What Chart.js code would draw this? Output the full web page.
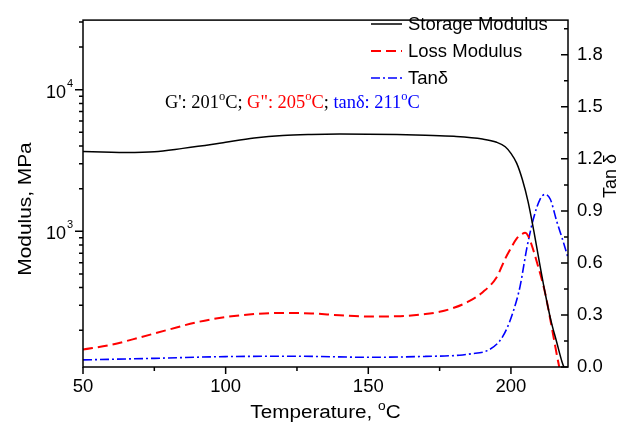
<!DOCTYPE html>
<html>
<head>
<meta charset="utf-8">
<script src="https://cdn.jsdelivr.net/npm/chart.js@4.4.0/dist/chart.umd.min.js"></script>
<style>
html, body { margin: 0; padding: 0; background: #fff; }
#wrap { width: 624px; height: 425px; position: relative; }
</style>
</head>
<body>
<div id="wrap"><canvas id="dma"></canvas></div>
<script>
// Storage modulus G' (MPa)
const storageT = [50, 60, 65, 75, 85, 95, 100, 110, 120, 130, 140, 150, 160, 170, 180, 190, 195, 198, 200, 202, 204, 206, 208, 210, 212, 214, 216, 218, 220];
const storageG = [3660, 3610, 3600, 3640, 3850, 4100, 4250, 4550, 4750, 4830, 4860, 4850, 4820, 4760, 4680, 4480, 4250, 3950, 3550, 3030, 2320, 1620, 1010, 600, 365, 235, 166, 118, 95];

// Loss modulus G" (MPa)
const lossT = [50, 60, 70, 80, 90, 100, 110, 120, 130, 140, 150, 160, 170, 175, 180, 185, 190, 195, 198, 200, 202, 204, 205, 206, 207, 209, 212, 214.4, 216.7, 218];
const lossG = [146, 158, 178, 202, 228, 248, 260, 265, 263, 255, 250, 251, 260, 270, 288, 318, 370, 474, 640, 760, 888, 960, 975, 930, 830, 615, 365, 205, 116, 90];

// Tan delta
const tanT = [50, 75, 100, 125, 150, 170, 182, 186, 191.5, 196, 198.6, 201, 203.2, 205.6, 207.9, 210.2, 212, 213.8, 216.1, 218, 220];
const tanD = [0.041, 0.05, 0.06, 0.062, 0.056, 0.061, 0.068, 0.076, 0.093, 0.149, 0.223, 0.33, 0.465, 0.688, 0.856, 0.967, 0.995, 0.967, 0.837, 0.74, 0.63];

// axis ticks
const xMajor = [50, 100, 150, 200];
const xMinor = [75, 125, 175];
const tanMajor = [0, 0.3, 0.6, 0.9, 1.2, 1.5, 1.8];
const tanMinor = [0.15, 0.45, 0.75, 1.05, 1.35, 1.65, 1.95];
const modMajor = [1000, 10000];
const modExp = ['3', '4'];
const modMinor = [200, 300, 400, 500, 600, 700, 800, 900, 2000, 3000, 4000, 5000, 6000, 7000, 8000, 9000, 20000, 30000];

const SANS = '"Liberation Sans", Arial, sans-serif';
const SERIF = '"Liberation Serif", "Times New Roman", serif';

function pts(xs, ys) {
    return xs.map((x, i) => ({ x: x, y: ys[i] }));
}

function supText(ctx, parts, x, y, size, supSize, supRise) {
    // draws a row of text pieces, some as superscripts
    parts.forEach(p => {
        ctx.fillStyle = p.c || '#000';
        if (p.sup) {
            ctx.font = supSize + 'px ' + p.f;
            ctx.fillText(p.t, x, y - supRise);
        } else {
            ctx.font = size + 'px ' + p.f;
            ctx.fillText(p.t, x, y);
        }
        x += ctx.measureText(p.t).width;
    });
    return x;
}

function rowWidth(ctx, parts, size, supSize) {
    let w = 0;
    parts.forEach(p => {
        ctx.font = (p.sup ? supSize : size) + 'px ' + p.f;
        w += ctx.measureText(p.t).width;
    });
    return w;
}

const decor = {
    id: 'decor',
    afterDatasetsDraw(chart) {
        const ctx = chart.ctx;
        const a = chart.chartArea;
        const sx = chart.scales.x, sy = chart.scales.y, sr = chart.scales.y1;
        ctx.save();

        // frame
        ctx.strokeStyle = '#000';
        ctx.lineWidth = 1.5;
        ctx.strokeRect(a.left, a.top, a.right - a.left, a.bottom - a.top);

        // tick marks
        ctx.beginPath();
        xMajor.forEach(v => { const p = sx.getPixelForValue(v); ctx.moveTo(p, a.bottom); ctx.lineTo(p, a.bottom + 7); });
        xMinor.forEach(v => { const p = sx.getPixelForValue(v); ctx.moveTo(p, a.bottom); ctx.lineTo(p, a.bottom + 4); });
        modMajor.forEach(v => { const p = sy.getPixelForValue(v); ctx.moveTo(a.left, p); ctx.lineTo(a.left - 8, p); });
        modMinor.forEach(v => { const p = sy.getPixelForValue(v); ctx.moveTo(a.left, p); ctx.lineTo(a.left - 4, p); });
        tanMajor.forEach(v => { const p = sr.getPixelForValue(v); ctx.moveTo(a.right, p); ctx.lineTo(a.right - 7, p); });
        tanMinor.forEach(v => { const p = sr.getPixelForValue(v); ctx.moveTo(a.right, p); ctx.lineTo(a.right - 4, p); });
        ctx.stroke();

        // left labels 10^n
        ctx.textBaseline = 'alphabetic';
        modMajor.forEach((v, i) => {
            const p = sy.getPixelForValue(v);
            ctx.textAlign = 'right';
            ctx.fillStyle = '#000';
            ctx.font = '18px ' + SANS;
            ctx.fillText('10', 66, p + 8);
            ctx.textAlign = 'left';
            ctx.font = '11px ' + SANS;
            ctx.fillText(modExp[i], 67, p - 3);
        });

        // axis titles (the source text is a bit wide, so stretch along the line)
        ctx.textAlign = 'center';
        ctx.textBaseline = 'middle';
        ctx.font = '18px ' + SANS;
        ctx.save();
        ctx.translate(26, 209);
        ctx.rotate(-Math.PI / 2);
        ctx.scale(1.16, 1);
        ctx.fillText('Modulus, MPa', 0, 0);
        ctx.restore();
        ctx.save();
        ctx.translate(611, 176);
        ctx.rotate(-Math.PI / 2);
        ctx.fillText('Tan \u03b4', 0, 0);
        ctx.restore();

        ctx.textAlign = 'left';
        ctx.textBaseline = 'alphabetic';
        const xt = [
            { t: 'Temperature, ', f: SANS },
            { t: 'o', f: SANS, sup: true },
            { t: 'C', f: SANS }
        ];
        const xw = rowWidth(ctx, xt, 18, 12) * 1.15;
        ctx.save();
        ctx.translate((a.left + a.right) / 2 - xw / 2, 418);
        ctx.scale(1.15, 1);
        supText(ctx, xt, 0, 0, 18, 12, 8);
        ctx.restore();

        // legend
        chart.data.datasets.forEach((ds, i) => {
            const y = 24 + i * 27;
            ctx.strokeStyle = ds.borderColor;
            ctx.lineWidth = ds.borderWidth;
            ctx.setLineDash(ds.borderDash || []);
            ctx.beginPath();
            ctx.moveTo(371, y);
            ctx.lineTo(402, y);
            ctx.stroke();
            ctx.setLineDash([]);
            ctx.fillStyle = '#000';
            ctx.font = '18.5px ' + SANS;
            ctx.textBaseline = 'middle';
            ctx.fillText(ds.label, 408, y + 1);
        });

        // transition temperatures
        ctx.textBaseline = 'alphabetic';
        const note = [
            { t: "G': 201", f: SERIF, c: '#000' },
            { t: 'o', f: SERIF, c: '#000', sup: true },
            { t: 'C; ', f: SERIF, c: '#000' },
            { t: 'G": 205', f: SERIF, c: '#ff0000' },
            { t: 'o', f: SERIF, c: '#ff0000', sup: true },
            { t: 'C', f: SERIF, c: '#ff0000' },
            { t: '; ', f: SERIF, c: '#000' },
            { t: 'tan\u03b4: 211', f: SERIF, c: '#0000ff' },
            { t: 'o', f: SERIF, c: '#0000ff', sup: true },
            { t: 'C', f: SERIF, c: '#0000ff' }
        ];
        supText(ctx, note, 165, 108, 18.4, 12.5, 8.5);

        ctx.restore();
    }
};

new Chart(document.getElementById('dma'), {
    type: 'line',
    data: {
        datasets: [
            {
                label: 'Storage Modulus',
                data: pts(storageT, storageG),
                yAxisID: 'y',
                borderColor: '#000000',
                borderWidth: 1.5,
                pointRadius: 0,
                cubicInterpolationMode: 'monotone'
            },
            {
                label: 'Loss Modulus',
                data: pts(lossT, lossG),
                yAxisID: 'y',
                borderColor: '#ff0000',
                borderWidth: 2,
                borderDash: [10, 5],
                pointRadius: 0,
                cubicInterpolationMode: 'monotone'
            },
            {
                label: 'Tan\u03b4',
                data: pts(tanT, tanD),
                yAxisID: 'y1',
                borderColor: '#0000ff',
                borderWidth: 1.6,
                borderDash: [9, 3, 2, 3],
                pointRadius: 0,
                cubicInterpolationMode: 'monotone'
            }
        ]
    },
    options: {
        responsive: true,
        maintainAspectRatio: false,
        animation: false,
        events: [],
        layout: { padding: { top: 7, left: 0, right: 0, bottom: 0 } },
        plugins: {
            legend: { display: false },
            tooltip: { enabled: false }
        },
        scales: {
            x: {
                type: 'linear',
                position: 'bottom',
                min: 50,
                max: 220,
                grid: { display: false, drawTicks: false },
                border: { display: false },
                afterBuildTicks: s => { s.ticks = xMajor.map(v => ({ value: v })); },
                afterFit: s => { s.height = 58; },
                ticks: {
                    padding: 9,
                    color: '#000',
                    font: { family: SANS, size: 18.5 },
                    callback: v => String(v)
                }
            },
            y: {
                type: 'logarithmic',
                position: 'left',
                min: 110,
                max: 31000,
                grid: { display: false, drawTicks: false },
                border: { display: false },
                afterBuildTicks: s => { s.ticks = modMajor.map(v => ({ value: v })); },
                afterFit: s => { s.width = 83; },
                ticks: { display: false }
            },
            y1: {
                type: 'linear',
                position: 'right',
                min: 0,
                max: 2.0,
                grid: { display: false, drawTicks: false },
                border: { display: false },
                afterBuildTicks: s => { s.ticks = tanMajor.map(v => ({ value: v })); },
                afterFit: s => { s.width = 56; },
                ticks: {
                    padding: 9,
                    color: '#000',
                    font: { family: SANS, size: 18.5 },
                    callback: v => v.toFixed(1)
                }
            }
        }
    },
    plugins: [decor]
});
</script>
</body>
</html>
